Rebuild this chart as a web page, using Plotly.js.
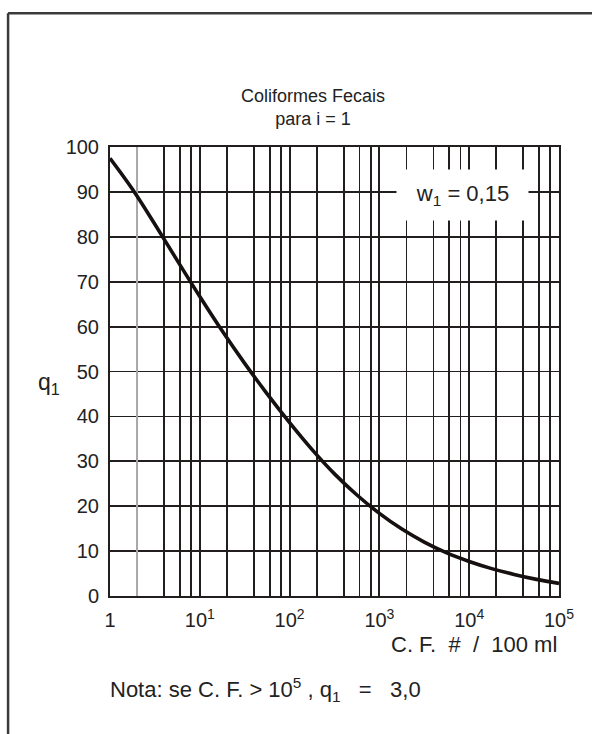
<!DOCTYPE html>
<html>
<head>
<meta charset="utf-8">
<script src="https://cdn.plot.ly/plotly-3.0.1.min.js"></script>
<style>html,body{margin:0;padding:0;background:#fff;}#chart{width:592px;height:734px;}</style>
</head>
<body>
<div id="chart"></div>
<script>
// Curve at quarter-decade steps (C.F. per 100 ml vs q1)
const cfValues = [1, 1.78, 3.16, 5.62, 10, 17.8, 31.6, 56.2, 100, 178, 316, 562,
                  1000, 1780, 3160, 5620, 10000, 17800, 31600, 56200, 100000];
const q1Values = [97.5, 90.6, 82.8, 74.7, 66.7, 59.0, 51.8, 45.0, 38.6, 32.6, 27.2, 22.5,
                  18.4, 14.9, 12.0, 9.6, 7.7, 6.1, 4.8, 3.7, 2.8];

// Tick labels (decades) and grid lines at 2,4,6,8 x 10^k
const xTickVals = [1, 10, 100, 1000, 10000, 100000];
const xTickText = ['1', '10<sup>1</sup>', '10<sup>2</sup>', '10<sup>3</sup>', '10<sup>4</sup>', '10<sup>5</sup>'];
const xMinorVals = [4, 6, 8, 20, 40, 60, 80, 200, 400, 600, 800,
                    2000, 4000, 6000, 8000, 20000, 40000, 60000, 80000];
const yTickVals = [0, 10, 20, 30, 40, 50, 60, 70, 80, 90, 100];
const grayLineX = [2, 2];
const grayLineY = [0, 100];

const ink = '#231e1e';
const fam = 'Liberation Sans, Arial, sans-serif';
const font = {family: fam, size: 22, color: '#222'};
const tickFont = {family: fam, size: 20, color: '#222'};

const traces = [
  {x: grayLineX, y: grayLineY, mode: 'lines', line: {color: '#a8a8a8', width: 2}, hoverinfo: 'skip', showlegend: false},
  {x: cfValues, y: q1Values, mode: 'lines', line: {color: '#161010', width: 3.6, shape: 'spline', smoothing: 1}, showlegend: false}
];

const layout = {
  width: 592, height: 734,
  margin: {l: 110, r: 33, t: 147, b: 138},
  paper_bgcolor: '#fff', plot_bgcolor: '#fff',
  font: font,
  showlegend: false,
  title: {
    text: 'Coliformes Fecais<br>para i = 1',
    font: {family: fam, size: 18, color: '#222'},
    x: 0.452, xref: 'paper', xanchor: 'center',
    y: 0.861, yref: 'container', yanchor: 'middle'
  },
  xaxis: {
    type: 'log', range: [0, 5],
    tickmode: 'array', tickvals: xTickVals, ticktext: xTickText,
    showgrid: true, gridcolor: ink, gridwidth: 1.8,
    minor: {tickmode: 'array', tickvals: xMinorVals, showgrid: true, gridcolor: ink, gridwidth: 1.8, ticks: ''},
    showline: true, linecolor: ink, linewidth: 2, mirror: true,
    ticks: '', zeroline: false, ticklabelstandoff: 5,
    tickfont: tickFont
  },
  yaxis: {
    range: [0, 100], tickmode: 'array', tickvals: yTickVals,
    showgrid: true, gridcolor: ink, gridwidth: 1.8,
    showline: true, linecolor: ink, linewidth: 2, mirror: true,
    ticks: '', zeroline: false, ticklabelstandoff: 5,
    tickfont: tickFont
  },
  annotations: [
    {xref: 'paper', yref: 'paper', x: 0.785, y: 0.893, xanchor: 'center', yanchor: 'middle',
     text: 'w<sub>1</sub> = 0,15', showarrow: false, bgcolor: '#fff', width: 129, height: 48,
     font: {family: fam, size: 22, color: '#222'}},
    {xref: 'paper', yref: 'paper', x: -0.135, y: 0.473, xanchor: 'center', yanchor: 'middle',
     text: 'q<sub>1</sub>', showarrow: false,
     font: {family: fam, size: 23, color: '#222'}},
    {xref: 'paper', yref: 'paper', x: 1.0, y: -0.109, xanchor: 'right', yanchor: 'middle',
     text: 'C. F.&nbsp;&nbsp;#&nbsp;&nbsp;/&nbsp;&nbsp;100 ml', showarrow: false, font: font},
    {xref: 'paper', yref: 'paper', x: -0.005, y: -0.209, xanchor: 'left', yanchor: 'middle',
     text: 'Nota: se C. F.&nbsp;&gt;&nbsp;10<sup>5</sup>&nbsp;,&nbsp;q<sub>1</sub>&nbsp;&nbsp;&nbsp;=&nbsp;&nbsp;&nbsp;3,0', showarrow: false, font: font}
  ],
  shapes: [
    {type: 'line', xref: 'paper', yref: 'paper', x0: -0.227, x1: 1.3, y0: 1.298, y1: 1.298,
     line: {color: '#3a3a3a', width: 2.5}},
    {type: 'line', xref: 'paper', yref: 'paper', x0: -0.227, x1: -0.227, y0: 1.298, y1: -0.4,
     line: {color: '#3a3a3a', width: 2.5}}
  ]
};

Plotly.newPlot('chart', traces, layout, {staticPlot: true, displayModeBar: false});
</script>
</body>
</html>
